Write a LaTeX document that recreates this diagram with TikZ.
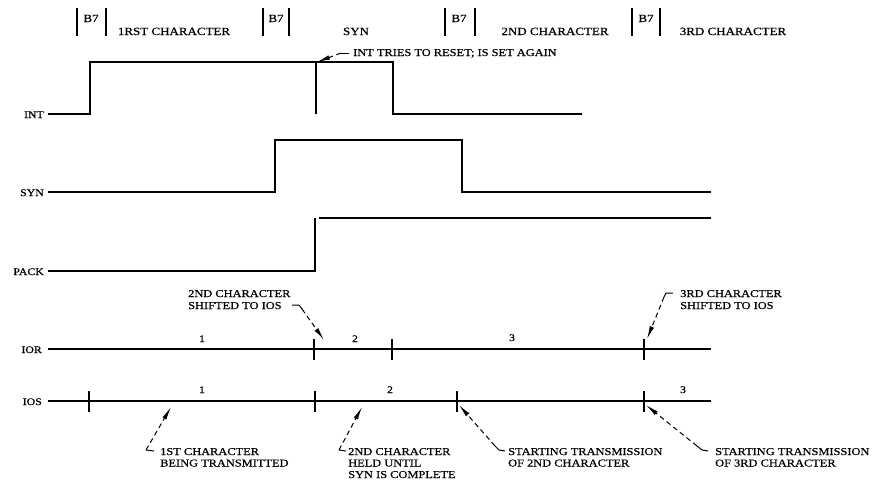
\documentclass[tikz,border=0pt]{standalone}
\usepackage{fontspec}
\setmainfont{Liberation Serif}[FakeStretch=1.18, FakeBold=0.6]
\usetikzlibrary{arrows.meta}
\begin{document}
\begin{tikzpicture}[x=1pt,y=-1pt,
  wave/.style={line width=1.6pt, line join=miter},
  tickmark/.style={line width=2.1pt},
  barmark/.style={line width=2.3pt},
  toplbl/.style={font=\fontsize{11}{13}\selectfont, inner sep=0pt, anchor=base},
  sig/.style={font=\fontsize{10}{12}\selectfont, inner sep=0pt, anchor=base east},
  num/.style={font=\fontsize{10}{12}\selectfont, inner sep=0pt, anchor=base},
  note/.style={font=\fontsize{10.5}{12}\selectfont, inner sep=0pt, anchor=base west},
  lead/.style={line width=1pt, dash pattern=on 5pt off 3.5pt, -{Latex[length=13pt,width=4.6pt]}},
  hookline/.style={line width=1pt}
]
\useasboundingbox (0,0) rectangle (894,482);

% ---------- top row ----------
\foreach \xa/\xb/\xt [count=\i] in {77/106/91, 263/289/276, 445/475/459, 632/660/646}{
  \draw[barmark] (\xa,8) -- (\xa,36);
  \draw[barmark] (\xb,8) -- (\xb,36);
  \node[toplbl] (b7\i) at (\xt,22) {B7};
}
\node[toplbl] (c1) at (174,35) {1RST CHARACTER};
\node[toplbl] (csyn) at (356,35) {SYN};
\node[toplbl] (c2) at (555,35) {2ND CHARACTER};
\node[toplbl] (c3) at (733,35) {3RD CHARACTER};

% ---------- signal labels ----------
\node[sig] (lint) at (44,118) {INT};
\node[sig] (lsyn) at (44,196) {SYN};
\node[sig] (lpack) at (44,275) {PACK};
\node[sig] (lior) at (42,353) {IOR};
\node[sig] (lios) at (42,405) {IOS};

% ---------- waveforms ----------
\draw[wave] (48,114) -- (90,114) -- (90,62) -- (393,62) -- (393,114) -- (582,114);
\draw[wave] (316,62) -- (316,114);
\draw[wave] (48,192) -- (275,192) -- (275,140) -- (462,140) -- (462,192) -- (711,192);
\draw[wave] (48,271) -- (315,271) -- (315,218);
\draw[wave] (319,218) -- (711,218);

% IOR
\draw[wave] (48,349) -- (711,349);
\foreach \x in {314,392,644}{\draw[tickmark] (\x,339) -- (\x,360);}
\node[num] (r1) at (202,342) {1};
\node[num] (r2) at (355,342) {2};
\node[num] (r3) at (512,341) {3};

% IOS
\draw[wave] (48,401) -- (711,401);
\foreach \x in {89,315,457,644}{\draw[tickmark] (\x,391) -- (\x,412);}
\node[num] (s1) at (202,393) {1};
\node[num] (s2) at (390,393) {2};
\node[num] (s3) at (683,393) {3};

% ---------- annotations ----------
% INT tries to reset
\node[note] (n1) at (353,56) {INT TRIES TO RESET; IS SET AGAIN};
\coordinate (h1a) at (349,53);
\coordinate (h1b) at (341,53);
\coordinate (t1) at (317,62);
\draw[hookline] (h1a) -- (h1b);
\draw[lead] (h1b) -- (t1);

% 2nd character shifted to IOS
\node[note] (n2a) at (188,297) {2ND CHARACTER};
\node[note] (n2b) at (188,309) {SHIFTED TO IOS};
\coordinate (h2a) at (292,305);
\coordinate (h2b) at (299,305);
\coordinate (h2c) at (302,309);
\coordinate (t2) at (324,340);
\draw[hookline] (h2a) -- (h2b) -- (h2c);
\draw[lead] (h2c) -- (t2);

% 3rd character shifted to IOS
\node[note] (n3a) at (680,297) {3RD CHARACTER};
\node[note] (n3b) at (680,309) {SHIFTED TO IOS};
\coordinate (h3a) at (673,293);
\coordinate (h3b) at (666,293);
\coordinate (h3c) at (664,297);
\coordinate (t3) at (647,339);
\draw[hookline] (h3a) -- (h3b) -- (h3c);
\draw[lead] (h3c) -- (t3);

% 1st character being transmitted
\node[note] (n4a) at (160,455) {1ST CHARACTER};
\node[note] (n4b) at (160,466.5) {BEING TRANSMITTED};
\coordinate (h4a) at (154,451);
\coordinate (h4b) at (146,450);
\coordinate (t4) at (171,407);
\draw[hookline] (h4a) -- (h4b);
\draw[lead] (h4b) -- (t4);

% 2nd character held
\node[note] (n5a) at (348,455) {2ND CHARACTER};
\node[note] (n5b) at (348,466.5) {HELD UNTIL};
\node[note] (n5c) at (348,478) {SYN IS COMPLETE};
\coordinate (h5a) at (346,451);
\coordinate (h5b) at (339,450);
\coordinate (t5) at (362,407);
\draw[hookline] (h5a) -- (h5b);
\draw[lead] (h5b) -- (t5);

% starting transmission of 2nd
\node[note] (n6a) at (508,455) {STARTING TRANSMISSION};
\node[note] (n6b) at (508,466.5) {OF 2ND CHARACTER};
\coordinate (h6a) at (505,451);
\coordinate (h6b) at (499,450);
\coordinate (h6c) at (495,446);
\coordinate (t6) at (459,405);
\draw[hookline] (h6a) -- (h6b) -- (h6c);
\draw[lead] (h6c) -- (t6);

% starting transmission of 3rd
\node[note] (n7a) at (715,455) {STARTING TRANSMISSION};
\node[note] (n7b) at (715,466.5) {OF 3RD CHARACTER};
\coordinate (h7a) at (708,451);
\coordinate (h7b) at (702,450);
\coordinate (h7c) at (697,446);
\coordinate (t7) at (646,405);
\draw[hookline] (h7a) -- (h7b) -- (h7c);
\draw[lead] (h7c) -- (t7);
\end{tikzpicture}
\end{document}
